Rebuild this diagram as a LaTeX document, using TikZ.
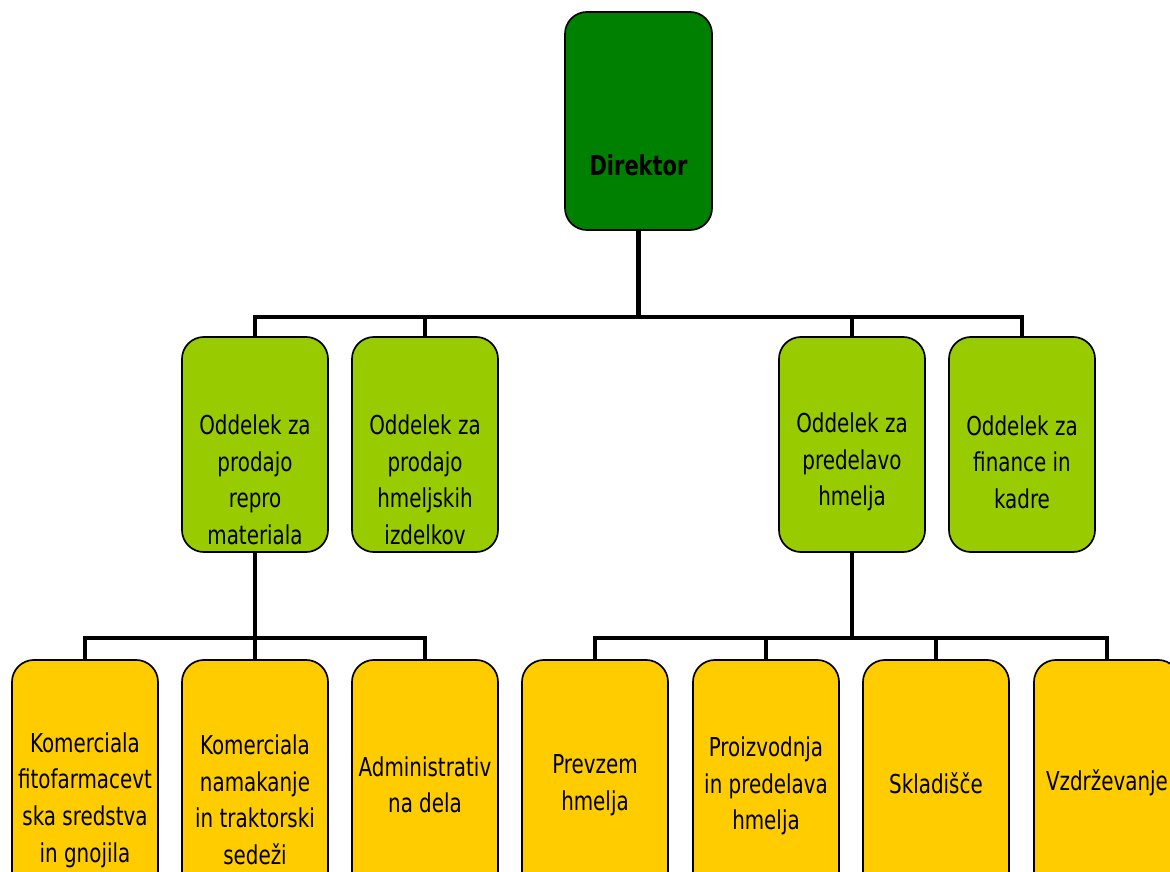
\documentclass[tikz,border=0pt]{standalone}
\usepackage{fontspec}
\setmainfont[FakeStretch=0.85]{DejaVu Sans Condensed}
\usetikzlibrary{positioning}

\begin{document}
\begin{tikzpicture}[
  x=0.025cm,y=-0.025cm,
  box/.style={draw=black,line width=1.2pt,rounded corners=0.55cm,inner sep=0pt,minimum width=3.65cm},
  boss/.style={box,fill=green!50!black,minimum width=3.675cm,minimum height=5.45cm},
  dept/.style={box,fill=lvltwo,minimum height=5.375cm},
  unit/.style={box,fill=lvlthree,minimum height=6.2cm},
  txt/.style={align=center,inner sep=0pt,font=\fontsize{18.5}{26}\selectfont},
  link/.style={line width=3.3pt,line join=miter}
]
  \definecolor{lvltwo}{HTML}{99CC00}
  \definecolor{lvlthree}{HTML}{FFCC00}
  \clip (0,0) rectangle (1170,872);

  % director
  \node[boss] (dir) at (638.5,121) {};
  \node[txt,font=\fontsize{19.5}{26}\selectfont\bfseries] (tdir) at (638.5,165) {Direktor};

  % departments
  \node[dept] (repro) at (255,444.5) {};
  \node[txt] (trepro) at (255,480) {Oddelek za\\prodajo\\repro\\materiala};
  \node[dept] (izdel) at (425,444.5) {};
  \node[txt] (tizdel) at (425,480) {Oddelek za\\prodajo\\hmeljskih\\izdelkov};
  \node[dept] (predel) at (852,444.5) {};
  \node[txt] (tpredel) at (852,462) {Oddelek za\\predelavo\\hmelja};
  \node[dept] (fin) at (1022,444.5) {};
  \node[txt] (tfin) at (1022,462) {Oddelek za\\finance in\\kadre};

  % units
  \node[unit] (fito) at (85,784) {};
  \node[txt] (tfito) at (85,800) {Komerciala\\fitofarmacevt\\ska sredstva\\in gnojila};
  \node[unit] (namak) at (255,784) {};
  \node[txt] (tnamak) at (255,800) {Komerciala\\namakanje\\in traktorski\\sedeži};
  \node[unit] (admin) at (425,784) {};
  \node[txt] (tadmin) at (425,785) {Administrativ\\na dela};
  \node[unit] (prevz) at (595,784) {};
  \node[txt] (tprevz) at (595,785) {Prevzem\\hmelja};
  \node[unit] (proiz) at (766,784) {};
  \node[txt] (tproiz) at (766,786) {Proizvodnja\\in predelava\\hmelja};
  \node[unit] (sklad) at (936,784) {};
  \node[txt] (tsklad) at (936,783) {Skladišče};
  \node[unit] (vzdr) at (1107,784) {};
  \node[txt] (tvzdr) at (1107,783) {Vzdrževanje};

  % connectors
  \coordinate (bartop) at (0,317);
  \coordinate (barleft) at (0,638);
  \draw[link] (dir.south) -- (dir.south |- bartop);
  \draw[link] (repro.north) -- (repro.north |- bartop) -- (fin.north |- bartop) -- (fin.north);
  \foreach \d in {izdel,predel}
    \draw[link] (\d.north) -- (\d.north |- bartop);
  \draw[link] (repro.south) -- (repro.south |- barleft);
  \draw[link] (fito.north) -- (fito.north |- barleft) -- (admin.north |- barleft) -- (admin.north);
  \draw[link] (namak.north) -- (namak.north |- barleft);
  \draw[link] (predel.south) -- (predel.south |- barleft);
  \draw[link] (prevz.north) -- (prevz.north |- barleft) -- (vzdr.north |- barleft) -- (vzdr.north);
  \foreach \u in {proiz,sklad}
    \draw[link] (\u.north) -- (\u.north |- barleft);
\end{tikzpicture}
\end{document}
